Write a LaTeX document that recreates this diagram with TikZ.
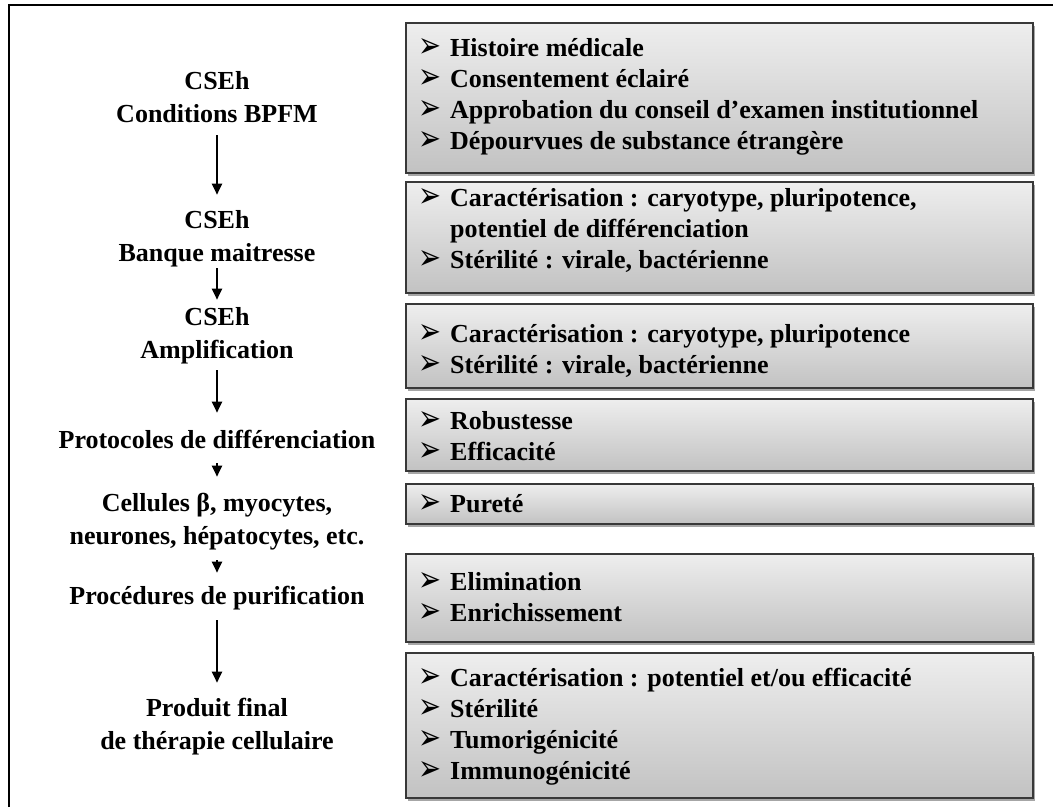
\documentclass[tikz,border=0pt]{standalone}
\usepackage{fontspec}
\setmainfont{Liberation Serif}
\newfontfamily\symfont{DejaVu Sans}
\usetikzlibrary{arrows.meta,shadows}

\definecolor{boxtop}{HTML}{EEEEEE}
\definecolor{boxbot}{HTML}{C2C2C2}
\definecolor{boxedge}{HTML}{383838}

% arrowhead bullet followed by a fixed indent
\newcommand\itm{\makebox[29pt][l]{\hspace*{-3pt}\raisebox{-1pt}[0pt][0pt]{\resizebox*{23pt}{19pt}{\symfont ➢}}}}
\newcommand\cont{\hspace*{29pt}}

\tikzset{
  stage/.style={anchor=base, inner sep=0pt, font=\bfseries\fontsize{26}{33}\selectfont},
  flow/.style={line width=2.2pt, -{Triangle[width=10pt,length=11pt]}},
  checkbox/.style={anchor=north west, draw=boxedge, line width=1.8pt,
    top color=boxtop, bottom color=boxbot, minimum width=627pt, inner sep=0pt,
    drop shadow={shadow xshift=2.5pt, shadow yshift=-3pt, opacity=.35, fill=black}},
  items/.style={anchor=base west, inner sep=0pt, font=\bfseries\fontsize{26}{31}\selectfont}
}

\begin{document}
\begin{tikzpicture}[x=1pt,y=1pt]
\useasboundingbox (0,0) rectangle (1053,-807);
\fill[white] (0,0) rectangle (1053,-807);

% outer frame (runs off the right and bottom edges)
\draw[line width=2.6pt] (9,-807) -- (9,-5) -- (1053,-5);

% stages of the production chain
\node[stage] (s1) at (217,-89)  {\begin{tabular}[t]{@{}c@{}}CSEh\\Conditions BPFM\end{tabular}};
\node[stage] (s2) at (217,-228) {\begin{tabular}[t]{@{}c@{}}CSEh\\Banque maitresse\end{tabular}};
\node[stage] (s3) at (217,-325) {\begin{tabular}[t]{@{}c@{}}CSEh\\Amplification\end{tabular}};
\node[stage] (s4) at (217,-448) {\begin{tabular}[t]{@{}c@{}}Protocoles de différenciation\end{tabular}};
\node[stage] (s5) at (217,-511) {\begin{tabular}[t]{@{}c@{}}Cellules β, myocytes,\\neurones, hépatocytes, etc.\end{tabular}};
\node[stage] (s6) at (217,-604) {\begin{tabular}[t]{@{}c@{}}Procédures de purification\end{tabular}};
\node[stage] (s7) at (217,-716) {\begin{tabular}[t]{@{}c@{}}Produit final\\de thérapie cellulaire\end{tabular}};

\draw[flow, shorten <=3pt, shorten >=10pt] (s1.south) -- (s2.north);
\draw[flow, shorten <=-3pt, shorten >=2pt] (s2.south) -- (s3.north);
\draw[flow, shorten <=2pt, shorten >=12pt] (s3.south) -- (s4.north);
\draw[flow, shorten <=5pt, shorten >=11pt] (s4.south) -- (s5.north);
\draw[flow, shorten <=6pt, shorten >=8pt] (s5.south) -- (s6.north);
\draw[flow, shorten <=6pt, shorten >=10pt] (s6.south) -- (s7.north);

% requirement boxes
\node[checkbox, minimum height=150pt] (b1) at (405,-22)  {};
\node[checkbox, minimum height=111pt] (b2) at (405,-181) {};
\node[checkbox, minimum height=84pt]  (b3) at (405,-303) {};
\node[checkbox, minimum height=72pt]  (b4) at (405,-398) {};
\node[checkbox, minimum height=40pt]  (b5) at (405,-483) {};
\node[checkbox, minimum height=88pt]  (b6) at (405,-553) {};
\node[checkbox, minimum height=145pt] (b7) at (405,-652) {};

\node[items] (t1) at (421,-56) {\begin{tabular}[t]{@{}l@{}}
  \itm Histoire médicale\\
  \itm Consentement éclairé\\
  \itm Approbation du conseil d’examen institutionnel\\
  \itm Dépourvues de substance étrangère\end{tabular}};
\node[items] (t2) at (421,-206) {\begin{tabular}[t]{@{}l@{}}
  \itm Caractérisation : caryotype, pluripotence,\\
  \cont potentiel de différenciation\\
  \itm Stérilité : virale, bactérienne\end{tabular}};
\node[items] (t3) at (421,-342) {\begin{tabular}[t]{@{}l@{}}
  \itm Caractérisation : caryotype, pluripotence\\
  \itm Stérilité : virale, bactérienne\end{tabular}};
\node[items] (t4) at (421,-429) {\begin{tabular}[t]{@{}l@{}}
  \itm Robustesse\\
  \itm Efficacité\end{tabular}};
\node[items] (t5) at (421,-512) {\begin{tabular}[t]{@{}l@{}}
  \itm Pureté\end{tabular}};
\node[items] (t6) at (421,-590) {\begin{tabular}[t]{@{}l@{}}
  \itm Elimination\\
  \itm Enrichissement\end{tabular}};
\node[items] (t7) at (421,-686) {\begin{tabular}[t]{@{}l@{}}
  \itm Caractérisation : potentiel et/ou efficacité\\
  \itm Stérilité\\
  \itm Tumorigénicité\\
  \itm Immunogénicité\end{tabular}};
\end{tikzpicture}
\end{document}
